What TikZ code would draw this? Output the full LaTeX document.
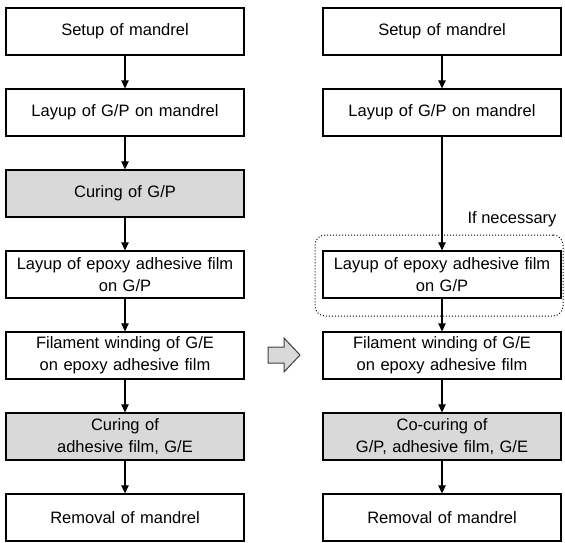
\documentclass[tikz,border=0pt]{standalone}
\usepackage{fontspec}
\setmainfont{Liberation Sans}
\usetikzlibrary{arrows.meta}
\definecolor{boxgray}{HTML}{D9D9D9}
\tikzset{
  stepbox/.style={draw=black, line width=1.3pt, fill=white, minimum width=238pt, minimum height=47pt,
    inner sep=0pt, text width=230pt, align=center, font=\fontsize{16.5}{22}\selectfont},
  graybox/.style={stepbox, fill=boxgray},
  flow/.style={draw=black, line width=1.2pt, -{Triangle[length=8pt,width=7.5pt]}},
}
\begin{document}
\begin{tikzpicture}[x=1pt,y=-1pt]
\useasboundingbox (0,0) rectangle (565,542);
% left column
\node[stepbox] (l1) at (125,31.5) {Setup of mandrel};
\node[stepbox] (l2) at (125,112.5) {Layup of G/P on mandrel};
\node[graybox] (l3) at (125,193.5) {Curing of G/P};
\node[stepbox] (l4) at (125,274.5) {Layup of epoxy adhesive film\\on G/P};
\node[stepbox] (l5) at (125,355.5) {Filament winding of G/E\\on epoxy adhesive film};
\node[graybox] (l6) at (125,436.5) {Curing of\\adhesive film, G/E};
\node[stepbox] (l7) at (125,517.5) {Removal of mandrel};
\foreach \a/\b in {l1/l2,l2/l3,l3/l4,l4/l5,l5/l6,l6/l7} \draw[flow] (\a) -- (\b);
% right column
\node[draw=black, dotted, line width=1pt, rounded corners=10pt, minimum width=248pt, minimum height=81pt] (opt) at (439,275.5) {};
\node[font=\fontsize{16.5}{20}\selectfont, anchor=east] (ifn) at (560,219) {If necessary};
\node[stepbox] (r1) at (442,31.5) {Setup of mandrel};
\node[stepbox] (r2) at (442,112.5) {Layup of G/P on mandrel};
\node[stepbox] (r4) at (442,274.5) {Layup of epoxy adhesive film\\on G/P};
\node[stepbox] (r5) at (442,355.5) {Filament winding of G/E\\on epoxy adhesive film};
\node[graybox] (r6) at (442,436.5) {Co-curing of\\G/P, adhesive film, G/E};
\node[stepbox] (r7) at (442,517.5) {Removal of mandrel};
\foreach \a/\b in {r1/r2,r2/r4,r4/r5,r5/r6,r6/r7} \draw[flow] (\a) -- (\b);
% block arrow
\draw[draw=black!75, fill=boxgray, line width=1pt, line join=miter]
  (268,347) -- (284,347) -- (284,338) -- (300,355) -- (284,372) -- (284,363) -- (268,363) -- cycle;
\end{tikzpicture}
\end{document}
